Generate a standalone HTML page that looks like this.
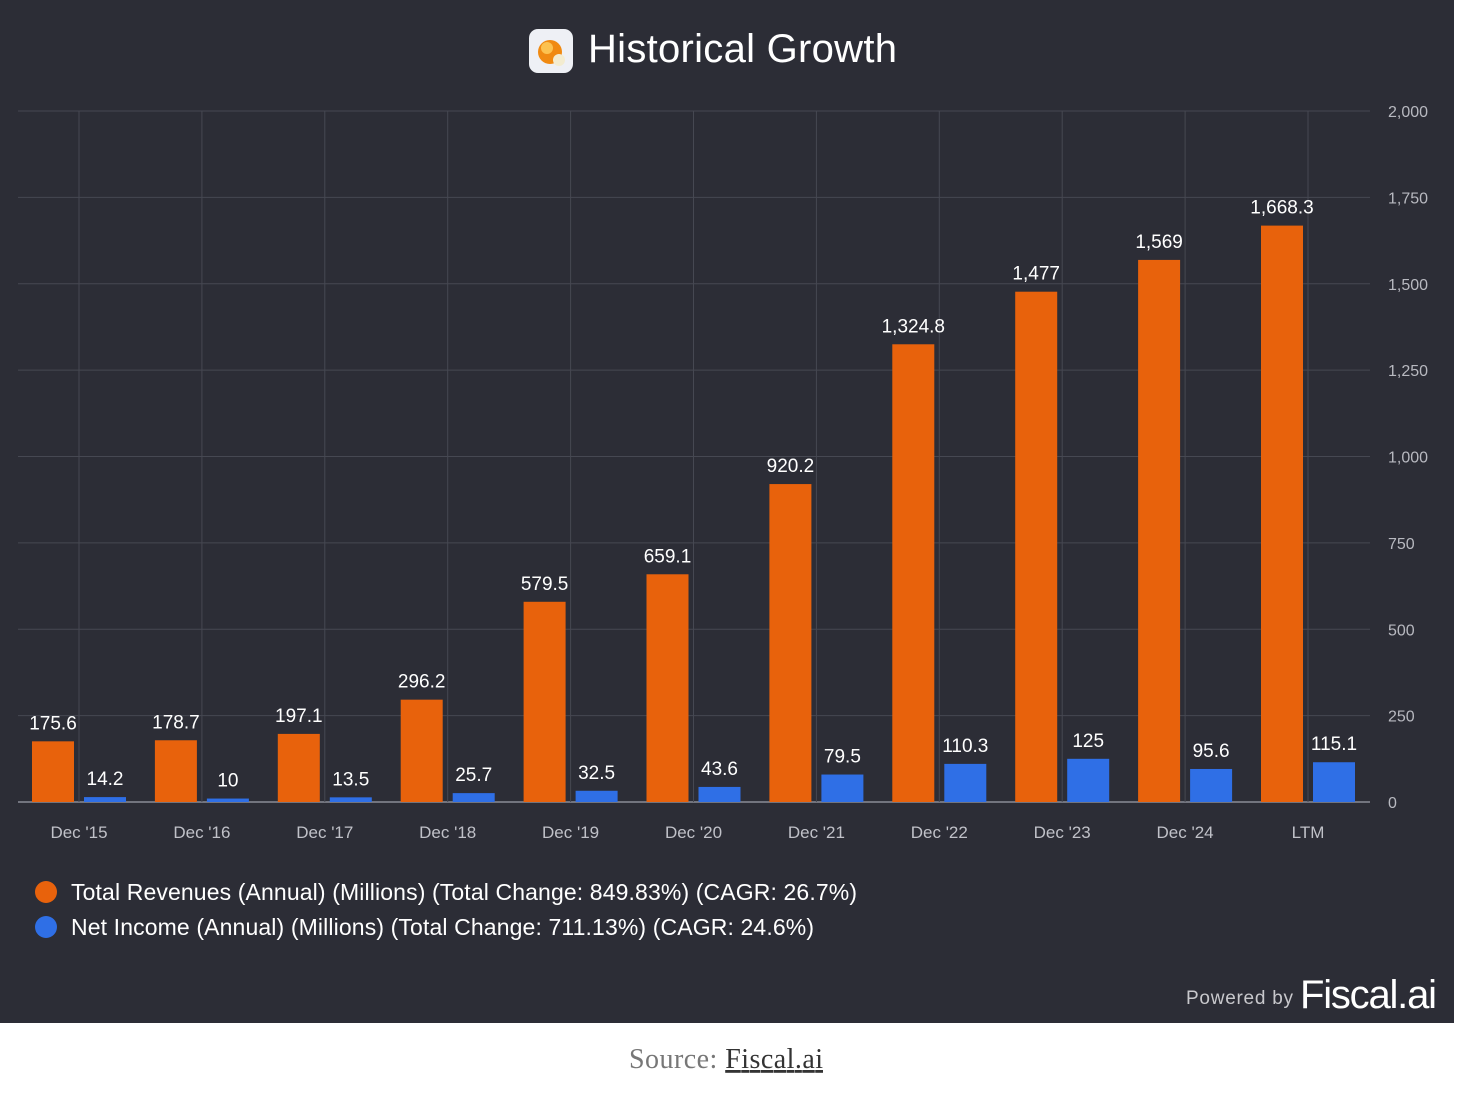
<!DOCTYPE html>
<html><head><meta charset="utf-8"><style>
body{margin:0;width:1466px;height:1096px;background:#fff;font-family:"Liberation Sans",sans-serif;overflow:hidden}
#panel{position:absolute;left:0;top:0;width:1454px;height:1023px;background:#2c2d36}
</style></head><body>
<div id="panel"></div>
<svg width="1466" height="1096" style="position:absolute;left:0;top:0">
<g>
<rect x="529" y="29" width="44" height="44" rx="9" fill="#eef0f5"/>
<circle cx="550" cy="52" r="12" fill="#f08a12"/>
<circle cx="547" cy="48" r="6" fill="#ffd060" opacity="0.8"/>
<circle cx="559" cy="60" r="6" fill="#f3ecd0"/>
<text x="588" y="62" font-size="40" fill="#fff" textLength="309">Historical Growth</text>
</g>
<g id="grid"></g><g id="bars"></g><g id="labels"></g>
<g>
<circle cx="46" cy="892" r="11" fill="#e8620c"/>
<text x="71" y="900" font-size="23" fill="#fff" textLength="786">Total Revenues (Annual) (Millions) (Total Change: 849.83%) (CAGR: 26.7%)</text>
<circle cx="46" cy="927" r="11" fill="#2f6fe6"/>
<text x="71" y="935" font-size="23" fill="#fff" textLength="743">Net Income (Annual) (Millions) (Total Change: 711.13%) (CAGR: 24.6%)</text>
</g>
<text x="1186" y="1004" font-size="19" fill="#c8c8cc" textLength="107">Powered by</text>
<text x="1300" y="1008" font-size="40" fill="#fff" textLength="137">Fiscal.ai</text>
<text x="629" y="1068" font-size="28" fill="#777" font-family="Liberation Serif,serif" textLength="194">Source: <tspan fill="#333" text-decoration="underline">Fiscal.ai</tspan></text>
</svg>
<script>
const categories=["Dec '15","Dec '16","Dec '17","Dec '18","Dec '19","Dec '20","Dec '21","Dec '22","Dec '23","Dec '24","LTM"];
const revenue=[175.6,178.7,197.1,296.2,579.5,659.1,920.2,1324.8,1477,1569,1668.3];
const netIncome=[14.2,10,13.5,25.7,32.5,43.6,79.5,110.3,125,95.6,115.1];
const yTicks=[0,250,500,750,1000,1250,1500,1750,2000];
const NS="http://www.w3.org/2000/svg";
const y=v=>802-v*(691/2000);
const xc=i=>79+i*122.9;
function mk(p,t,a){const e=document.createElementNS(NS,t);for(const k in a)e.setAttribute(k,a[k]);document.getElementById(p).appendChild(e);return e;}
const fmt=v=>v.toLocaleString('en-US');
yTicks.forEach(t=>{
 const l=mk('grid','line',{x1:18,x2:1370,y1:y(t),y2:y(t),stroke:t===0?'#8a8c96':'#464852','stroke-width':t===0?1.5:1});
 
 
 const tx=mk('grid','text',{x:1388,y:y(t)+6,'font-size':16,fill:'#b8b9c0'});
 tx.textContent=fmt(t);
 
 
});
categories.forEach((c,i)=>{
 const l=mk('grid','line',{x1:xc(i),x2:xc(i),y1:111,y2:802,stroke:'#464852','stroke-width':1});
 
 
 const tx=mk('labels','text',{x:xc(i),y:838,'font-size':17,fill:'#c0c1c8','text-anchor':'middle'});
 tx.textContent=c;
 
 
 const r=mk('bars','rect',{x:xc(i)-47,y:y(revenue[i]),width:42,height:802-y(revenue[i]),fill:'#e8620c'});
 
 
 const b=mk('bars','rect',{x:xc(i)+5,y:y(netIncome[i]),width:42,height:802-y(netIncome[i]),fill:'#2f6fe6'});
 
 
 const rl=mk('labels','text',{x:xc(i)-26,y:y(revenue[i])-12,'font-size':19,fill:'#fff','text-anchor':'middle'});
 rl.textContent=fmt(revenue[i]);
 
 
 const bl=mk('labels','text',{x:xc(i)+26,y:y(netIncome[i])-12,'font-size':19,fill:'#fff','text-anchor':'middle'});
 bl.textContent=fmt(netIncome[i]);
 
 
});
</script>
</body></html>
